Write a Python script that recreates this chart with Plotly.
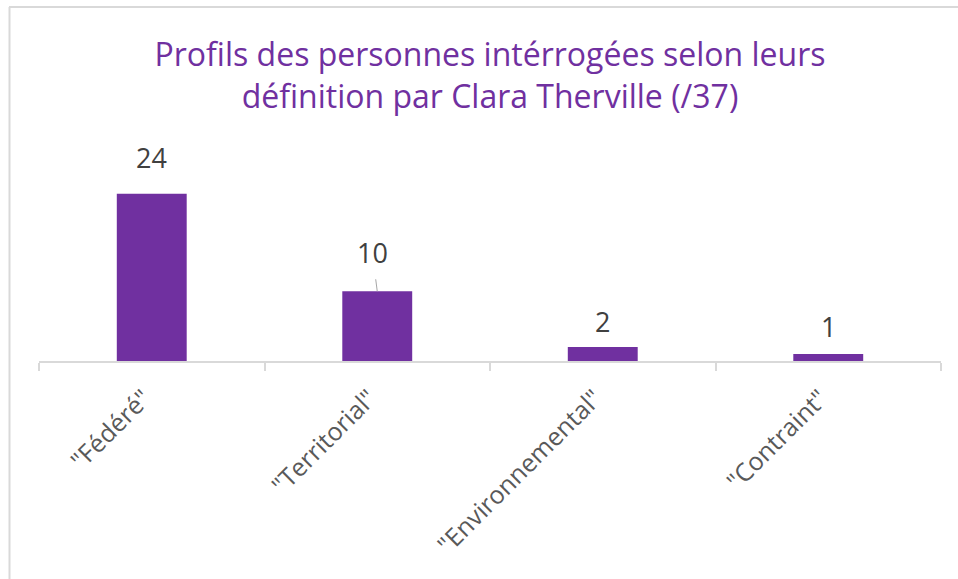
import plotly.graph_objects as go

categories = ['"Fédéré"', '"Territorial"', '"Environnemental"', '"Contraint"']
values = [24, 10, 2, 1]
title_text = "Profils des personnes intérrogées selon leurs<br>définition par Clara Therville (/37)"

PURPLE = "#7030A0"
FONT = "Open Sans"

fig = go.Figure(
    go.Bar(
        x=categories,
        y=values,
        width=0.31,
        marker=dict(color=PURPLE, line=dict(width=0)),
        hoverinfo="skip",
    )
)

# data labels
label_shift = [16, 18, 5, 7]
for i, (c, v) in enumerate(zip(categories, values)):
    if i == 1:
        fig.add_annotation(
            x=c, y=v, text=str(v), showarrow=True, arrowhead=0, arrowwidth=1,
            arrowcolor="#a6a6a6", ax=-5, ay=-39, standoff=0, startstandoff=7,
            font=dict(family=FONT, size=27, color="#404040"),
        )
    else:
        fig.add_annotation(
            x=c, y=v, text=str(v), showarrow=False, yanchor="bottom",
            yshift=label_shift[i],
            font=dict(family=FONT, size=27, color="#404040"),
        )

fig.update_layout(
    width=958,
    height=579,
    autosize=False,
    margin=dict(l=39, r=17, t=152, b=218),
    paper_bgcolor="white",
    plot_bgcolor="white",
    showlegend=False,
    title=dict(
        text=title_text,
        x=0.5, xanchor="center", xref="paper",
        y=1 - 66 / 579, yanchor="middle", yref="container",
        font=dict(family=FONT, size=32, color=PURPLE),
    ),
    xaxis=dict(
        showline=True, linecolor="#d9d9d9", linewidth=1.5,
        ticks="outside", tickson="boundaries", ticklen=8, tickcolor="#d9d9d9", tickwidth=1.5,
        tickangle=-45, tickfont=dict(family=FONT, size=25, color="#595959"),
        ticklabelstandoff=11, ticklabelshift=-8,
        showgrid=False, zeroline=False,
    ),
    yaxis=dict(range=[0, 30], visible=False, showgrid=False, zeroline=False),
)
# chart border (top & left)
fig.add_shape(type="line", xref="paper", yref="paper", x0=-30 / 902, x1=1 + 17 / 902,
              y0=1 + 145 / 209, y1=1 + 145 / 209, line=dict(color="#d9d9d9", width=2))
fig.add_shape(type="line", xref="paper", yref="paper", x0=-29.5 / 902, x1=-29.5 / 902,
              y0=1 + 145 / 209, y1=-218 / 209, line=dict(color="#d9d9d9", width=2))

fig.write_html("out.html", config={"displayModeBar": False},
               post_script="document.body.style.margin='0';")
